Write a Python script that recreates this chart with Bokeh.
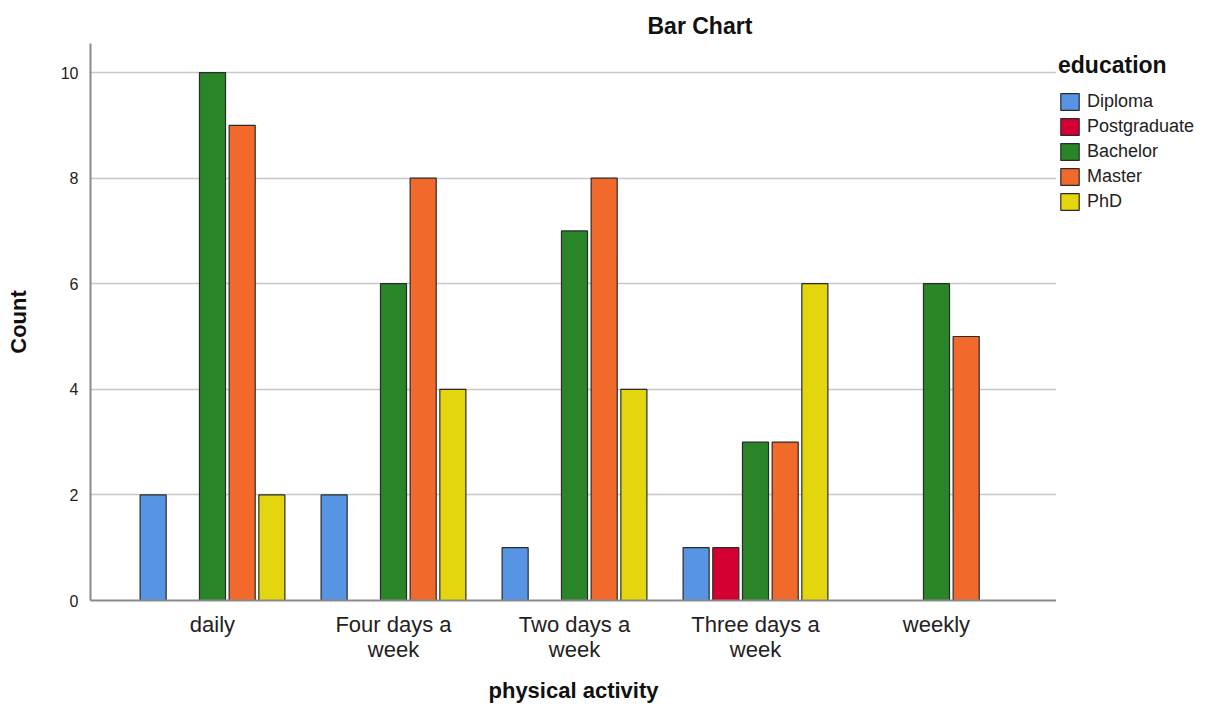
from bokeh.plotting import figure
from bokeh.layouts import row
from bokeh.models import (ColumnDataSource, Range1d, FixedTicker, Legend, LegendItem,
                          CDSView, BooleanFilter)
from bokeh.transform import dodge
from bokeh.embed import file_html
from bokeh.resources import INLINE

categories = ["daily", "Four days a\nweek", "Two days a\nweek", "Three days a\nweek", "weekly"]
education = ["Diploma", "Postgraduate", "Bachelor", "Master", "PhD"]
diploma = [2, 2, 1, 1, 0]
postgraduate = [0, 0, 0, 1, 0]
bachelor = [10, 6, 7, 3, 6]
master = [9, 8, 8, 3, 5]
phd = [2, 4, 4, 6, 0]
series = [diploma, postgraduate, bachelor, master, phd]
colors = ["#5794e3", "#d50032", "#2a8529", "#f26a2b", "#e3d60f"]
y_ticks = [0, 2, 4, 6, 8, 10]

FONT = "Liberation Sans"

p = figure(width=1056, height=706, output_backend="svg", toolbar_location=None,
           x_range=Range1d(-0.674, 4.663), y_range=Range1d(0, 10.55),
           min_border_left=90, min_border_right=0, min_border_top=43,
           min_border_bottom=106, outline_line_color=None)

p.title.text = "Bar Chart"
p.title.text_font = FONT
p.title.text_font_size = "23px"
p.title.text_font_style = "bold"
p.title.text_color = "#111111"
p.title.align = "left"
p.title.offset = 557

idx = list(range(len(categories)))
slot = 0.164
width = 0.144
for k, (name, vals, col) in enumerate(zip(education, series, colors)):
    src = ColumnDataSource(dict(idx=idx, top=vals))
    view = CDSView(filter=BooleanFilter([v > 0 for v in vals]))
    p.vbar(x=dodge("idx", (k - 2) * slot, range=p.x_range), top="top", width=width,
           source=src, view=view, fill_color=col, line_color="#2b2b2b", line_width=1.2)

# axes
p.xaxis.ticker = FixedTicker(ticks=idx)
p.xaxis.major_label_overrides = {i: c for i, c in enumerate(categories)}
p.xaxis.major_label_text_font = FONT
p.xaxis.major_label_text_font_size = "22px"
p.xaxis.major_label_text_color = "#222222"
p.xaxis.major_label_text_line_height = 1.0
p.xaxis.major_tick_line_color = None
p.xaxis.minor_tick_line_color = None
p.xaxis.axis_line_color = "#8a8a8a"
p.xaxis.axis_line_width = 2
p.xaxis.major_label_standoff = 5
p.xaxis.axis_label = "physical activity"
p.xaxis.axis_label_text_font = FONT
p.xaxis.axis_label_text_font_size = "22px"
p.xaxis.axis_label_text_font_style = "bold"
p.xaxis.axis_label_text_color = "#111111"
p.xaxis.axis_label_standoff = 13

p.yaxis.ticker = FixedTicker(ticks=y_ticks)
p.yaxis.major_label_text_font = FONT
p.yaxis.major_label_text_font_size = "16px"
p.yaxis.major_label_text_color = "#222222"
p.yaxis.major_tick_line_color = None
p.yaxis.minor_tick_line_color = None
p.yaxis.axis_line_color = "#8a8a8a"
p.yaxis.axis_line_width = 2
p.yaxis.major_label_standoff = 6
p.yaxis.axis_label = "Count"
p.yaxis.axis_label_text_font = FONT
p.yaxis.axis_label_text_font_size = "22px"
p.yaxis.axis_label_text_font_style = "bold"
p.yaxis.axis_label_text_color = "#111111"
p.yaxis.axis_label_standoff = 27

p.xgrid.grid_line_color = None
p.ygrid.grid_line_color = "#c8c8c8"
p.ygrid.grid_line_width = 1.5

# legend panel (a separate, axis-less figure to the right of the plot area)
lp = figure(width=162, height=706, output_backend="svg", toolbar_location=None,
            x_axis_type=None, y_axis_type=None, outline_line_color=None,
            min_border_left=0, min_border_right=0, min_border_top=43, min_border_bottom=106,
            x_range=Range1d(0, 1), y_range=Range1d(0, 1))
lp.xgrid.grid_line_color = None
lp.ygrid.grid_line_color = None
items = []
for name, col in zip(education, colors):
    r = lp.vbar(x=[0.5], top=[1], width=0.1, fill_color=col, line_color="#2b2b2b",
                line_width=1.2, visible=False)
    items.append(LegendItem(label=name, renderers=[r]))
legend = Legend(items=items, location=(2, 388), title="education",
                title_text_font=FONT, title_text_font_size="23px", title_text_font_style="bold",
                title_text_color="#111111", title_standoff=12,
                label_text_font=FONT, label_text_font_size="18px", label_text_color="#222222",
                glyph_width=23, glyph_height=21, label_height=18, label_standoff=6, spacing=4,
                padding=0, margin=0, border_line_color=None, background_fill_alpha=0)
lp.add_layout(legend, "center")

layout = row(p, lp)
open("out.html", "w").write(file_html(layout, INLINE))
